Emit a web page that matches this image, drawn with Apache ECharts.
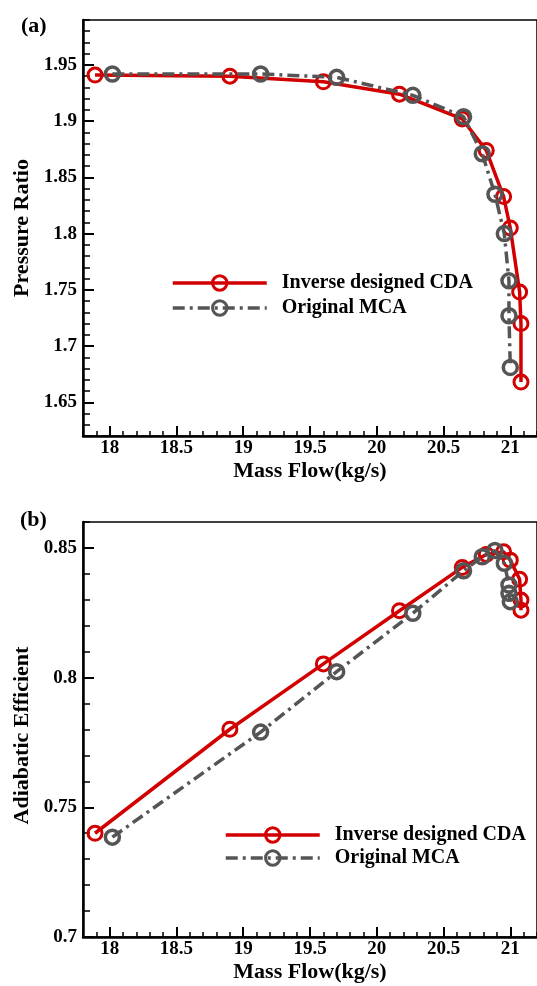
<!DOCTYPE html>
<html>
<head>
<meta charset="utf-8">
<script src="https://cdn.jsdelivr.net/npm/echarts@6/dist/echarts.min.js"></script>
<style>
html, body { margin: 0; padding: 0; background: #fff; }
#main { width: 537px; height: 986px; }
</style>
</head>
<body>
<div id="main"></div>
<script>
// 数据
var cdaFlow = [17.89, 18.90, 19.60, 20.17, 20.64, 20.82, 20.95, 21.00, 21.07, 21.08, 21.08];
var cdaPR   = [1.941, 1.940, 1.935, 1.924, 1.902, 1.874, 1.833, 1.805, 1.748, 1.720, 1.668];
var cdaEff  = [0.7400, 0.7801, 0.8053, 0.8258, 0.8425, 0.8475, 0.8485, 0.8453, 0.8379, 0.8299, 0.8260];

var mcaFlow = [18.02, 19.13, 19.70, 20.27, 20.65, 20.79, 20.885, 20.955, 20.99, 20.99, 21.00];
var mcaPR   = [1.942, 1.942, 1.939, 1.923, 1.904, 1.871, 1.835, 1.800, 1.758, 1.727, 1.681];
var mcaEff  = [0.7385, 0.7790, 0.8023, 0.8248, 0.8412, 0.8466, 0.8490, 0.8441, 0.8357, 0.8325, 0.8293];

var flowTicks = [18, 18.5, 19, 19.5, 20, 20.5, 21];
var prTicks = [1.65, 1.7, 1.75, 1.8, 1.85, 1.9, 1.95];
var effTicks = [0.7, 0.75, 0.8, 0.85];

var names = ['Inverse designed CDA', 'Original MCA'];

var FONT = "'Liberation Serif', 'Times New Roman', serif";
var RED = '#d20000';
var GRAY = '#555555';

// 次刻度
function minorTicks(min, max, step, majors) {
    var out = [];
    var n = Math.round((max - min) / step);
    for (var i = 0; i <= n; i++) {
        var v = Math.round((min + i * step) * 1000) / 1000;
        var isMajor = majors.some(function (m) { return Math.abs(m - v) < 1e-6; });
        if (!isMajor) out.push(v);
    }
    return out;
}

function pairs(xs, ys) {
    return xs.map(function (x, i) { return [x, ys[i]]; });
}

var txt = { fontFamily: FONT, fontWeight: 'bold', color: '#000' };

function xMajor(grid) {
    return {
        gridIndex: grid, type: 'value', min: 17.8, max: 21.2, position: 'bottom',
        name: 'Mass Flow(kg/s)', nameLocation: 'middle', nameGap: 24,
        nameTextStyle: Object.assign({ fontSize: 22 }, txt),
        axisLine: { show: true, onZero: false, lineStyle: { color: '#000', width: 2.5 } },
        axisTick: { show: true, inside: true, length: 10, customValues: flowTicks, lineStyle: { color: '#000', width: 2 } },
        axisLabel: Object.assign({ customValues: flowTicks, margin: 3, fontSize: 19 }, txt),
        splitLine: { show: false }
    };
}
function xMinor(grid) {
    return {
        gridIndex: grid, type: 'value', min: 17.8, max: 21.2, position: 'bottom',
        axisLine: { show: false },
        axisTick: { show: true, inside: true, length: 5, customValues: minorTicks(17.8, 21.2, 0.1, flowTicks), lineStyle: { color: '#000', width: 1.5 } },
        axisLabel: { show: false },
        splitLine: { show: false }
    };
}
function yMajor(grid, min, max, ticks, name, namePad) {
    return {
        gridIndex: grid, type: 'value', min: min, max: max, position: 'left',
        name: name, nameLocation: 'middle', nameGap: 47,
        nameTextStyle: Object.assign({ fontSize: 22, padding: namePad }, txt),
        axisLine: { show: true, onZero: false, lineStyle: { color: '#000', width: 2.5 } },
        axisTick: { show: true, inside: true, length: 11, customValues: ticks, lineStyle: { color: '#000', width: 2 } },
        axisLabel: Object.assign({ customValues: ticks, margin: 6, fontSize: 19 }, txt),
        splitLine: { show: false }
    };
}
function yMinor(grid, min, max, ticks) {
    return {
        gridIndex: grid, type: 'value', min: min, max: max, position: 'left',
        axisLine: { show: false },
        axisTick: { show: true, inside: true, length: 7, customValues: minorTicks(min, max, 0.01, ticks), lineStyle: { color: '#000', width: 1.5 } },
        axisLabel: { show: false },
        splitLine: { show: false }
    };
}

function cdaSeries(axis, data) {
    return {
        name: names[0], type: 'line', xAxisIndex: axis, yAxisIndex: axis, data: data,
        symbol: 'circle', symbolSize: 14,
        itemStyle: { color: 'rgba(0,0,0,0)', borderColor: RED, borderWidth: 3 },
        lineStyle: { color: RED, width: 3.5 },
        z: 2
    };
}
function mcaSeries(axis, data) {
    return {
        name: names[1], type: 'line', xAxisIndex: axis, yAxisIndex: axis, data: data,
        symbol: 'circle', symbolSize: 14,
        itemStyle: { color: 'rgba(0,0,0,0)', borderColor: GRAY, borderWidth: 3.5 },
        lineStyle: { color: GRAY, width: 3.5, type: [12, 5, 3, 5] },
        z: 3
    };
}

function legend(left, top, gap) {
    return {
        orient: 'vertical', left: left, top: top, padding: 0,
        itemWidth: 94, itemHeight: 18, itemGap: gap,
        data: names,
        itemStyle: { borderWidth: 3 },
        lineStyle: { width: 3.5 },
        textStyle: Object.assign({ fontSize: 20, padding: [0, 0, 0, 10] }, txt)
    };
}

var myChart = echarts.init(document.getElementById('main'));

var option = {
    animation: false,
    backgroundColor: '#fff',
    title: [
        { text: '(a)', left: 21, top: 15, padding: 0, textStyle: Object.assign({ fontSize: 22 }, txt) },
        { text: '(b)', left: 20, top: 509, padding: 0, textStyle: Object.assign({ fontSize: 22 }, txt) }
    ],
    legend: [legend(171, 273, 5), legend(224, 825, 3)],
    grid: [
        { left: 83, top: 20, width: 458, height: 416, show: true, borderColor: '#000', borderWidth: 1.5, backgroundColor: 'transparent' },
        { left: 83, top: 522, width: 458, height: 415, show: true, borderColor: '#000', borderWidth: 1.5, backgroundColor: 'transparent' }
    ],
    xAxis: [xMajor(0), xMinor(0), xMajor(1), xMinor(1)],
    yAxis: [
        yMajor(0, 1.62, 1.99, prTicks, 'Pressure Ratio', 0),
        yMinor(0, 1.62, 1.99, prTicks),
        yMajor(1, 0.7, 0.86, effTicks, 'Adiabatic Efficient', [0, 12, 0, 0]),
        yMinor(1, 0.7, 0.86, effTicks)
    ],
    series: [
        cdaSeries(0, pairs(cdaFlow, cdaPR)),
        mcaSeries(0, pairs(mcaFlow, mcaPR)),
        cdaSeries(2, pairs(cdaFlow, cdaEff)),
        mcaSeries(2, pairs(mcaFlow, mcaEff))
    ]
};

myChart.setOption(option);
</script>
</body>
</html>
